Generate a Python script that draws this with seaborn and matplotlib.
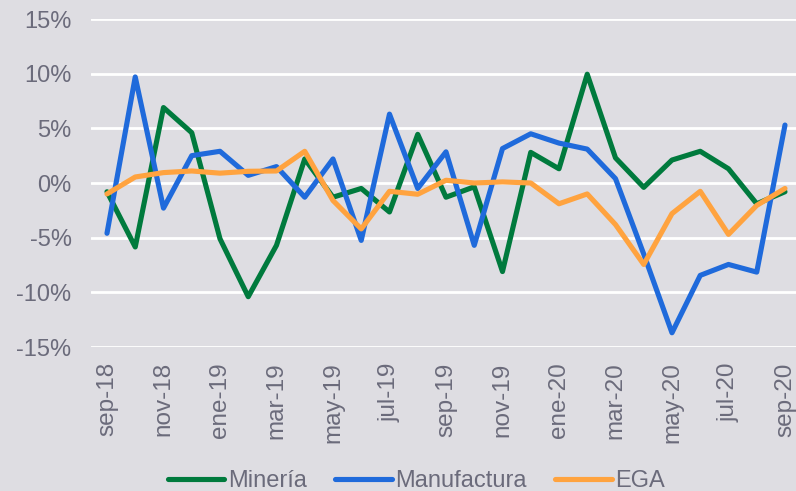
import pandas as pd
import numpy as np
import matplotlib.pyplot as plt
import seaborn as sns
from matplotlib.ticker import FuncFormatter

# Datos (variación %, sep-18 a sep-20)
meses = ['sep-18', 'oct-18', 'nov-18', 'dic-18', 'ene-19', 'feb-19', 'mar-19', 'abr-19',
         'may-19', 'jun-19', 'jul-19', 'ago-19', 'sep-19', 'oct-19', 'nov-19', 'dic-19',
         'ene-20', 'feb-20', 'mar-20', 'abr-20', 'may-20', 'jun-20', 'jul-20', 'ago-20', 'sep-20']
mineria = [-0.8, -5.85, 6.9, 4.6, -5.1, -10.4, -5.7, 2.2, -1.3, -0.5, -2.65, 4.45, -1.3,
           -0.35, -8.1, 2.8, 1.3, 9.95, 2.3, -0.4, 2.1, 2.9, 1.3, -1.9, -0.8]
manufactura = [-4.6, 9.7, -2.3, 2.5, 2.9, 0.7, 1.5, -1.3, 2.2, -5.25, 6.3, -0.5, 2.85,
               -5.7, 3.15, 4.5, 3.65, 3.1, 0.4, -6.5, -13.7, -8.45, -7.45, -8.15, 5.3]
ega = [-1.0, 0.55, 0.95, 1.1, 0.9, 1.07, 1.1, 2.9, -1.6, -4.2, -0.76, -1.03, 0.25,
       0.0, 0.1, 0.0, -1.9, -1.0, -3.8, -7.45, -2.8, -0.76, -4.7, -2.05, -0.5]

series = ['Minería', 'Manufactura', 'EGA']
colores = ['#007A3D', '#1F6ADB', '#FFA33F']

df = pd.DataFrame({'mes': np.arange(len(meses)), 'Minería': mineria,
                   'Manufactura': manufactura, 'EGA': ega})
df_long = df.melt(id_vars='mes', var_name='serie', value_name='valor')

fondo = '#DEDDE2'
texto = '#6B6B7B'
sns.set_theme(style='white')
plt.rcParams['font.family'] = ['Liberation Sans', 'DejaVu Sans']

fig = plt.figure(figsize=(7.96, 4.91), dpi=100, facecolor=fondo)
ax = fig.add_axes([91 / 796, 1 - 347 / 491, 705 / 796, 328 / 491])
ax.set_facecolor(fondo)

for y in range(-15, 16, 5):
    ax.axhline(y, color='white', lw=2, zorder=0)

sns.lineplot(data=df_long, x='mes', y='valor', hue='serie', hue_order=series,
             palette=colores, linewidth=3.7, ax=ax, legend=False, zorder=3)

ax.set_xlim(-0.566, 24.39)
ax.set_ylim(-15, 15)
ax.set_yticks(range(-15, 16, 5))
ax.yaxis.set_major_formatter(FuncFormatter(lambda v, p: f'{v:.0f}%'))
ax.set_xticks(df['mes'][::2])
ax.set_xticklabels(meses[::2], rotation=90)
ax.tick_params(axis='x', length=0, pad=11, labelsize=17.5, colors=texto)
ax.tick_params(axis='y', length=0, pad=14, labelsize=17, colors=texto)
ax.set_xlabel('')
ax.set_ylabel('')
for s in ax.spines.values():
    s.set_visible(False)

handles = [plt.Line2D([], [], color=c, lw=3.7, solid_capstyle='round') for c in colores]
leg = fig.legend(handles, series, loc='center', bbox_to_anchor=(416.5 / 796, 10 / 491), ncol=3,
                 frameon=False, fontsize=17, handlelength=2.4, handletextpad=0.15,
                 columnspacing=1.2, labelcolor=texto)

fig.savefig('out.png', dpi=100, facecolor=fondo)
